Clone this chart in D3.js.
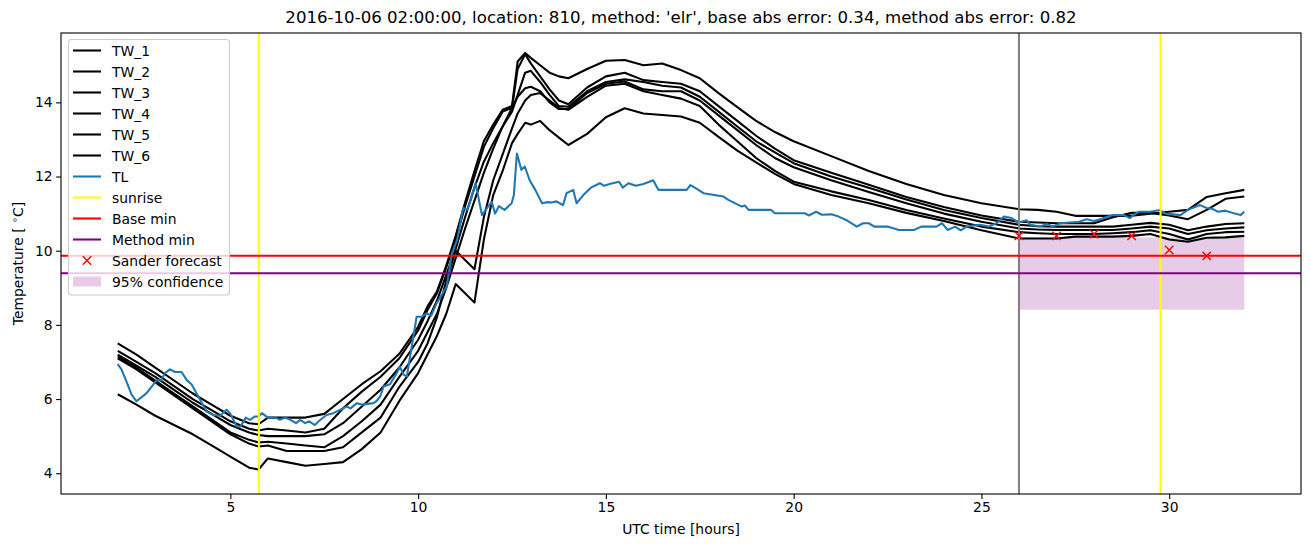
<!DOCTYPE html>
<html><head><meta charset="utf-8">
<script src="https://cdn.jsdelivr.net/npm/d3@7"></script>
<style>
body{margin:0;background:#fff;}
text{font-family:"DejaVu Sans",sans-serif;fill:#000;}
</style></head><body>
<svg id="chart" width="1310" height="547"></svg>
<script>
const titleText = "2016-10-06 02:00:00, location: 810, method: 'elr', base abs error: 0.34, method abs error: 0.82";
const xTicks = [5, 10, 15, 20, 25, 30];
const yTicks = [4, 6, 8, 10, 12, 14];

const twHours = [2,2.5,3,3.5,4,4.5,5,5.5,5.75,6,6.5,7,7.5,8,8.5,9,9.5,10,10.25,10.5,10.75,11,11.25,11.5,11.75,12,12.25,12.5,12.65,12.85,13,13.25,13.5,13.75,14,14.5,15,15.5,16,16.5,17,17.5,18,18.5,19,19.5,20,21,22,23,24,25,26,26.5,27,27.5,28,28.5,29,29.5,30,30.5,31,31.5,32];

const TW_1 = [7.5,7.2,6.85,6.5,6.15,5.85,5.55,5.35,5.32,5.5,5.5,5.5,5.6,6.0,6.4,6.75,7.22,7.95,8.5,8.9,9.6,10.4,11.3,12.15,12.95,13.4,13.8,13.9,15.1,15.33,15.2,15.0,14.8,14.7,14.65,14.9,15.12,15.14,15.0,15.05,14.87,14.65,14.25,13.87,13.5,13.2,12.95,12.55,12.15,11.8,11.5,11.28,11.12,11.1,11.05,10.94,10.94,10.94,10.94,11.0,11.05,11.1,11.45,11.55,11.64];
const TW_2 = [7.3,7.0,6.7,6.35,6.0,5.7,5.4,5.2,5.15,5.2,5.15,5.1,5.2,5.75,6.2,6.6,7.1,7.85,8.4,8.85,9.55,10.3,11.2,12.0,12.8,13.3,13.75,13.85,14.9,15.3,15.05,14.7,14.35,14.05,13.95,14.4,14.7,14.8,14.6,14.55,14.5,14.3,13.9,13.5,13.1,12.75,12.44,12.1,11.78,11.45,11.18,10.95,10.78,10.76,10.74,10.74,10.74,10.9,11.02,11.02,10.95,10.85,11.1,11.4,11.46];
const TW_3 = [7.2,6.9,6.6,6.25,5.9,5.6,5.3,5.1,5.03,5.0,5.0,5.0,5.05,5.35,5.8,6.25,6.85,7.6,8.1,8.65,9.35,10.05,10.9,11.7,12.4,12.9,13.35,13.75,14.2,14.8,14.85,14.55,14.2,13.9,13.88,14.3,14.55,14.62,14.55,14.45,14.4,14.15,13.75,13.35,12.95,12.65,12.36,12.0,11.7,11.38,11.1,10.88,10.7,10.66,10.65,10.65,10.65,10.65,10.7,10.75,10.7,10.55,10.65,10.72,10.74];
const TW_4 = [7.15,6.85,6.5,6.15,5.8,5.45,5.1,4.9,4.83,4.85,4.8,4.75,4.7,5.0,5.4,5.85,6.6,7.3,7.8,8.3,9.0,9.8,10.6,11.35,12.1,12.75,13.35,13.85,14.15,14.38,14.42,14.3,14.0,13.82,13.82,14.25,14.5,14.56,14.35,14.3,14.3,14.05,13.65,13.25,12.85,12.5,12.25,11.9,11.58,11.28,11.0,10.78,10.6,10.57,10.56,10.56,10.56,10.56,10.6,10.65,10.6,10.45,10.55,10.6,10.63];
const TW_5 = [7.1,6.8,6.45,6.1,5.75,5.4,5.05,4.8,4.72,4.75,4.6,4.6,4.6,4.7,5.1,5.5,6.33,7.0,7.5,8.2,9.2,10.0,9.75,9.5,10.9,11.9,12.6,13.3,13.7,14.05,14.2,14.25,14.05,13.85,13.8,14.15,14.45,14.5,14.3,14.2,14.1,13.9,13.4,12.95,12.5,12.15,11.86,11.6,11.37,11.1,10.87,10.65,10.5,10.47,10.45,10.45,10.45,10.47,10.5,10.55,10.45,10.3,10.45,10.5,10.51];
const TW_6 = [6.13,5.85,5.55,5.3,5.05,4.75,4.45,4.15,4.1,4.4,4.3,4.2,4.25,4.3,4.65,5.1,5.95,6.7,7.2,7.7,8.3,9.1,8.85,8.6,10.3,11.5,12.15,12.9,13.15,13.45,13.4,13.5,13.25,13.05,12.85,13.15,13.6,13.84,13.7,13.66,13.62,13.45,13.07,12.7,12.38,12.07,11.8,11.5,11.28,11.02,10.8,10.55,10.33,10.33,10.33,10.38,10.38,10.38,10.4,10.45,10.3,10.24,10.35,10.36,10.4];

const tlHours = [2.0,2.1,2.25,2.37,2.5,2.77,3.04,3.15,3.26,3.39,3.53,3.7,3.84,3.97,4.19,4.37,4.55,4.72,4.9,4.99,5.08,5.17,5.27,5.41,5.52,5.66,5.75,5.84,6.0,6.2,6.32,6.45,6.6,6.75,6.86,6.99,7.1,7.25,7.35,7.56,7.74,7.92,8.1,8.2,8.37,8.5,8.81,8.9,8.99,9.08,9.25,9.43,9.52,9.61,9.7,9.96,10.1,10.23,10.35,10.49,10.76,10.9,11.04,11.2,11.3,11.4,11.53,11.7,11.8,11.96,12.05,12.15,12.3,12.49,12.55,12.63,12.75,12.84,12.97,13.12,13.3,13.45,13.55,13.68,13.77,13.86,13.95,14.13,14.22,14.4,14.6,14.84,14.95,15.1,15.35,15.45,15.6,15.8,16.0,16.26,16.4,17.15,17.25,17.4,17.6,18.13,18.26,18.62,18.7,18.8,19.4,19.5,20.3,20.4,20.6,20.75,21.0,21.2,21.45,21.68,21.85,22.0,22.15,22.5,22.8,23.2,23.4,23.8,23.95,24.1,24.3,24.45,24.6,24.95,25.2,25.4,25.6,25.8,26.0,26.2,26.3,26.56,26.75,26.9,27.1,27.6,27.8,28.0,28.2,28.5,28.8,28.95,29.1,29.2,29.5,29.75,29.9,30.3,30.5,30.82,31.0,31.15,31.3,31.5,31.75,31.9,32.0];
const tlValues = [6.94,6.8,6.43,6.12,5.94,6.16,6.51,6.5,6.7,6.8,6.73,6.73,6.51,6.39,5.99,5.66,5.57,5.55,5.71,5.62,5.44,5.26,5.26,5.5,5.44,5.53,5.53,5.62,5.5,5.5,5.44,5.5,5.44,5.35,5.44,5.35,5.4,5.3,5.4,5.57,5.62,5.71,5.8,5.75,5.89,5.85,5.89,5.95,6.07,6.34,6.4,6.7,6.87,6.66,6.61,8.22,8.22,8.31,8.25,8.58,9.03,9.93,10.3,11.15,11.1,11.37,11.82,10.96,11.1,11.32,11.0,11.2,11.1,11.28,11.5,12.62,12.18,12.27,11.9,11.64,11.28,11.31,11.3,11.33,11.28,11.23,11.55,11.64,11.28,11.5,11.7,11.82,11.75,11.8,11.86,11.7,11.82,11.75,11.8,11.9,11.64,11.64,11.77,11.68,11.55,11.46,11.37,11.19,11.22,11.1,11.1,11.01,11.01,10.95,11.05,10.97,10.98,10.92,10.8,10.65,10.74,10.74,10.65,10.65,10.56,10.56,10.65,10.65,10.74,10.56,10.65,10.55,10.65,10.7,10.65,10.74,10.92,10.88,10.76,10.82,10.7,10.65,10.72,10.65,10.74,10.78,10.85,10.8,10.86,10.96,10.96,10.88,11.0,11.05,11.05,11.1,11.0,10.96,11.1,11.23,11.15,11.13,11.05,11.08,11.0,10.96,11.05];

const sunriseHours = [5.76, 29.77];
const forecastStart = 26.0;
const baseMin = 9.865;
const methodMin = 9.39;
const forecastHours = [26, 27, 28, 29, 30, 31];
const forecastValues = [10.4, 10.4, 10.45, 10.4, 10.02, 9.86];
const confHours = [26, 32];
const confLow = 8.41;
const confHigh = 10.36;

const legendLabels = ["TW_1","TW_2","TW_3","TW_4","TW_5","TW_6","TL","sunrise","Base min","Method min","Sander forecast","95% confidence"];

const LW = 2.08;
const svg = d3.select("#chart");
svg.append("rect").attr("width",1310).attr("height",547).attr("fill","#fff");
const L = 61, R = 1301, T = 33, B = 494;
const x = d3.scaleLinear().domain([0.49, 33.51]).range([L, R]);
const y = d3.scaleLinear().domain([3.44, 15.87]).range([B, T]);

const plot = svg.append("g");
svg.append("defs").append("clipPath").attr("id", "clip").append("rect")
  .attr("x", L).attr("y", T).attr("width", R - L).attr("height", B - T);
plot.attr("clip-path", "url(#clip)");

plot.append("rect")
  .attr("x", x(confHours[0])).attr("width", x(confHours[1]) - x(confHours[0]))
  .attr("y", y(confHigh)).attr("height", y(confLow) - y(confHigh))
  .attr("fill", "rgb(128,0,128)").attr("fill-opacity", 0.2);

const line = d3.line().x(d => x(d[0])).y(d => y(d[1]));
[TW_1, TW_2, TW_3, TW_4, TW_5, TW_6].forEach(s => {
  plot.append("path").datum(twHours.map((h, i) => [h, s[i]]))
    .attr("d", line).attr("fill", "none").attr("stroke", "#000")
    .attr("stroke-width", LW).attr("stroke-linejoin", "round");
});
plot.append("path").datum(tlHours.map((h, i) => [h, tlValues[i]]))
  .attr("d", line).attr("fill", "none").attr("stroke", "#1f77b4")
  .attr("stroke-width", LW).attr("stroke-linejoin", "round");

sunriseHours.forEach(h => {
  plot.append("line").attr("x1", x(h)).attr("x2", x(h)).attr("y1", T).attr("y2", B)
    .attr("stroke", "#ffff00").attr("stroke-width", LW);
});
plot.append("line").attr("x1", x(forecastStart)).attr("x2", x(forecastStart)).attr("y1", T).attr("y2", B)
  .attr("stroke", "#808080").attr("stroke-width", LW);
plot.append("line").attr("x1", L).attr("x2", R).attr("y1", y(baseMin)).attr("y2", y(baseMin))
  .attr("stroke", "#ff0000").attr("stroke-width", LW);
plot.append("line").attr("x1", L).attr("x2", R).attr("y1", y(methodMin)).attr("y2", y(methodMin))
  .attr("stroke", "#800080").attr("stroke-width", LW);

function xMark(g, cx, cy, s) {
  g.append("path").attr("d", `M${cx-s},${cy-s}L${cx+s},${cy+s}M${cx-s},${cy+s}L${cx+s},${cy-s}`)
    .attr("stroke", "#ff0000").attr("stroke-width", 1.4).attr("fill", "none");
}
forecastHours.forEach((h, i) => xMark(plot, x(h), y(forecastValues[i]), 4.2));

const xAxis = d3.axisBottom(x).tickValues(xTicks).tickSize(4.9).tickPadding(3.5).tickFormat(d3.format("d"));
const yAxis = d3.axisLeft(y).tickValues(yTicks).tickSize(4.9).tickPadding(3.5).tickFormat(d3.format("d"));
const gx = svg.append("g").attr("transform", `translate(0,${B})`).call(xAxis);
const gy = svg.append("g").attr("transform", `translate(${L},0)`).call(yAxis);
[gx, gy].forEach(g => {
  g.select(".domain").remove();
  g.selectAll(".tick line").attr("stroke", "#000").attr("stroke-width", 1.1);
  g.selectAll(".tick text").attr("font-size", "13.9px").attr("font-family", "DejaVu Sans").attr("fill", "#000");
});
svg.append("rect").attr("x", L).attr("y", T).attr("width", R - L).attr("height", B - T)
  .attr("fill", "none").attr("stroke", "#000").attr("stroke-width", 1.1);

svg.append("text").attr("x", (L + R) / 2).attr("y", 23).attr("text-anchor", "middle")
  .attr("font-size", "16.6px").text(titleText);
svg.append("text").attr("x", (L + R) / 2).attr("y", 534).attr("text-anchor", "middle")
  .attr("font-size", "13.9px").text("UTC time [hours]");
const yl = svg.append("text").attr("transform", `translate(23,${(T + B) / 2}) rotate(-90)`)
  .attr("text-anchor", "middle").attr("font-size", "13.9px");
yl.append("tspan").text("Temperature [ ");
yl.append("tspan").attr("font-size", "9.7px").attr("dy", -5).text("∘");
yl.append("tspan").attr("dy", 5).text("C]");

const lg = svg.append("g");
lg.append("rect").attr("x", 68.5).attr("y", 39.5).attr("width", 161).attr("height", 255.5)
  .attr("rx", 3).attr("fill", "#fff").attr("fill-opacity", 0.8).attr("stroke", "#cccccc").attr("stroke-width", 1.1);
const legendStyles = [
  {t:"line", c:"#000"},{t:"line", c:"#000"},{t:"line", c:"#000"},{t:"line", c:"#000"},{t:"line", c:"#000"},{t:"line", c:"#000"},
  {t:"line", c:"#1f77b4"},{t:"line", c:"#ffff00"},{t:"line", c:"#ff0000"},{t:"line", c:"#800080"},{t:"x"},{t:"patch"}
];
legendLabels.forEach((lab, i) => {
  const cy = 50.5 + i * 21.0;
  const st = legendStyles[i];
  if (st.t === "line") {
    lg.append("line").attr("x1", 73).attr("x2", 101).attr("y1", cy).attr("y2", cy)
      .attr("stroke", st.c).attr("stroke-width", LW);
  } else if (st.t === "x") {
    xMark(lg, 87, cy, 4.2);
  } else {
    lg.append("rect").attr("x", 73).attr("y", cy - 5).attr("width", 28).attr("height", 10)
      .attr("fill", "rgb(128,0,128)").attr("fill-opacity", 0.2);
  }
  lg.append("text").attr("x", 112).attr("y", cy + 5).attr("font-size", "13.9px").text(lab);
});
</script>
</body></html>
